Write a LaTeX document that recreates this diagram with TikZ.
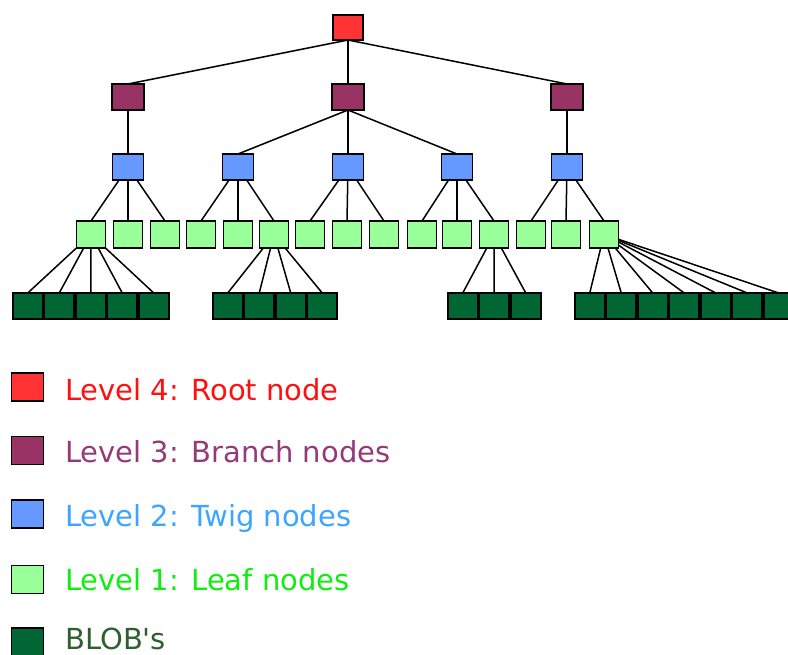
\documentclass[tikz,border=0pt]{standalone}
\usepackage{fontspec}
\setmainfont{DejaVu Sans}
% fills of the tree levels
\definecolor{rootc}{HTML}{FF3333}
\definecolor{branchc}{HTML}{993366}
\definecolor{twigc}{HTML}{6699FF}
\definecolor{leafc}{HTML}{99FF99}
\definecolor{blobc}{HTML}{006633}
% legend text colours
\definecolor{txtroot}{HTML}{FF1010}
\definecolor{txtbranch}{HTML}{933A78}
\definecolor{txttwig}{HTML}{3DA5FF}
\definecolor{txtleaf}{HTML}{10EE10}
\definecolor{txtblob}{HTML}{2F5F2F}
\begin{document}
\begin{tikzpicture}[x=1pt,y=-1pt,
  box/.style={draw=black,line width=1.8pt,inner sep=0pt,outer sep=0pt},
  rootbox/.style={box,fill=rootc,minimum width=30pt,minimum height=25pt},
  branchbox/.style={box,fill=branchc,minimum width=32pt,minimum height=26pt},
  twigbox/.style={box,fill=twigc,minimum width=31pt,minimum height=26pt},
  leafbox/.style={box,fill=leafc,minimum width=29pt,minimum height=27pt},
  blobbox/.style={box,fill=blobc,minimum width=29.7pt,minimum height=26pt},
  legbox/.style={box,minimum width=32pt,minimum height=28pt},
  link/.style={draw=black,line width=1.5pt},
  legtext/.style={anchor=base west,inner sep=0pt,font=\fontsize{29}{34}\selectfont}]
\useasboundingbox (0,0) rectangle (788,655);
\clip (0,0) rectangle (788,655);

% root, branches, twigs
\node[rootbox] (root) at (348,27.5) {};
\foreach \n/\x in {br1/128,br2/348,br3/567}
  \node[branchbox] (\n) at (\x,97) {};
\foreach \n/\x in {tw1/128,tw2/238,tw3/348,tw4/457,tw5/567}
  \node[twigbox] (\n) at (\x,167) {};

% leaves
\foreach \x [count=\i] in {91,128,165,201,238,274,310,347,384,422,457,494,531,566,604}
  \node[leafbox] (l\i) at (\x,234.5) {};

% BLOBs, four groups of adjacent cells
\foreach \s/\k/\o in {12/5/0,212/4/5,447/3/9,574/7/12}
  \foreach \j in {1,...,\k}{
    \pgfmathtruncatemacro{\idx}{\o+\j}
    \node[blobbox] (b\idx) at ({\s+31.5*(\j-0.5)},306) {};
  }

% root and branch links
\foreach \t in {br1,br2,br3}
  \draw[link] (root.south) -- (\t.north);
\draw[link] (br1.south) -- (tw1.north);
\foreach \t in {tw2,tw3,tw4}
  \draw[link] (br2.south) -- (\t.north);
\draw[link] (br3.south) -- (tw5.north);

% twig to leaf links
\foreach \t/\a/\b in {tw1/1/3,tw2/4/6,tw3/7/9,tw4/10/12,tw5/13/15}
  \foreach \i in {\a,...,\b}
    \draw[link] (\t) -- (l\i.north);

% leaf to BLOB links
\foreach \l/\a/\b in {l1/1/5,l6/6/9,l12/10/12,l15/13/19}
  \foreach \i in {\a,...,\b}
    \draw[link] (\l) -- (b\i.north);

% legend
\node[legbox,fill=rootc]   (lg1) at (27.5,387)   {};
\node[legbox,fill=branchc] (lg2) at (27.5,450.5) {};
\node[legbox,fill=twigc]   (lg3) at (27.5,514)   {};
\node[legbox,fill=leafc]   (lg4) at (27.5,579.5) {};
\node[legbox,fill=blobc]   (lg5) at (27.5,642)   {};
\node[legtext,text=txtroot]   (tx1) at (65,400) {Level 4: Root node};
\node[legtext,text=txtbranch] (tx2) at (65,462) {Level 3: Branch nodes};
\node[legtext,text=txttwig]   (tx3) at (65,526) {Level 2: Twig nodes};
\node[legtext,text=txtleaf]   (tx4) at (65,590) {Level 1: Leaf nodes};
\node[legtext,text=txtblob]   (tx5) at (65,649) {BLOB\textquotesingle s};
\end{tikzpicture}
\end{document}
